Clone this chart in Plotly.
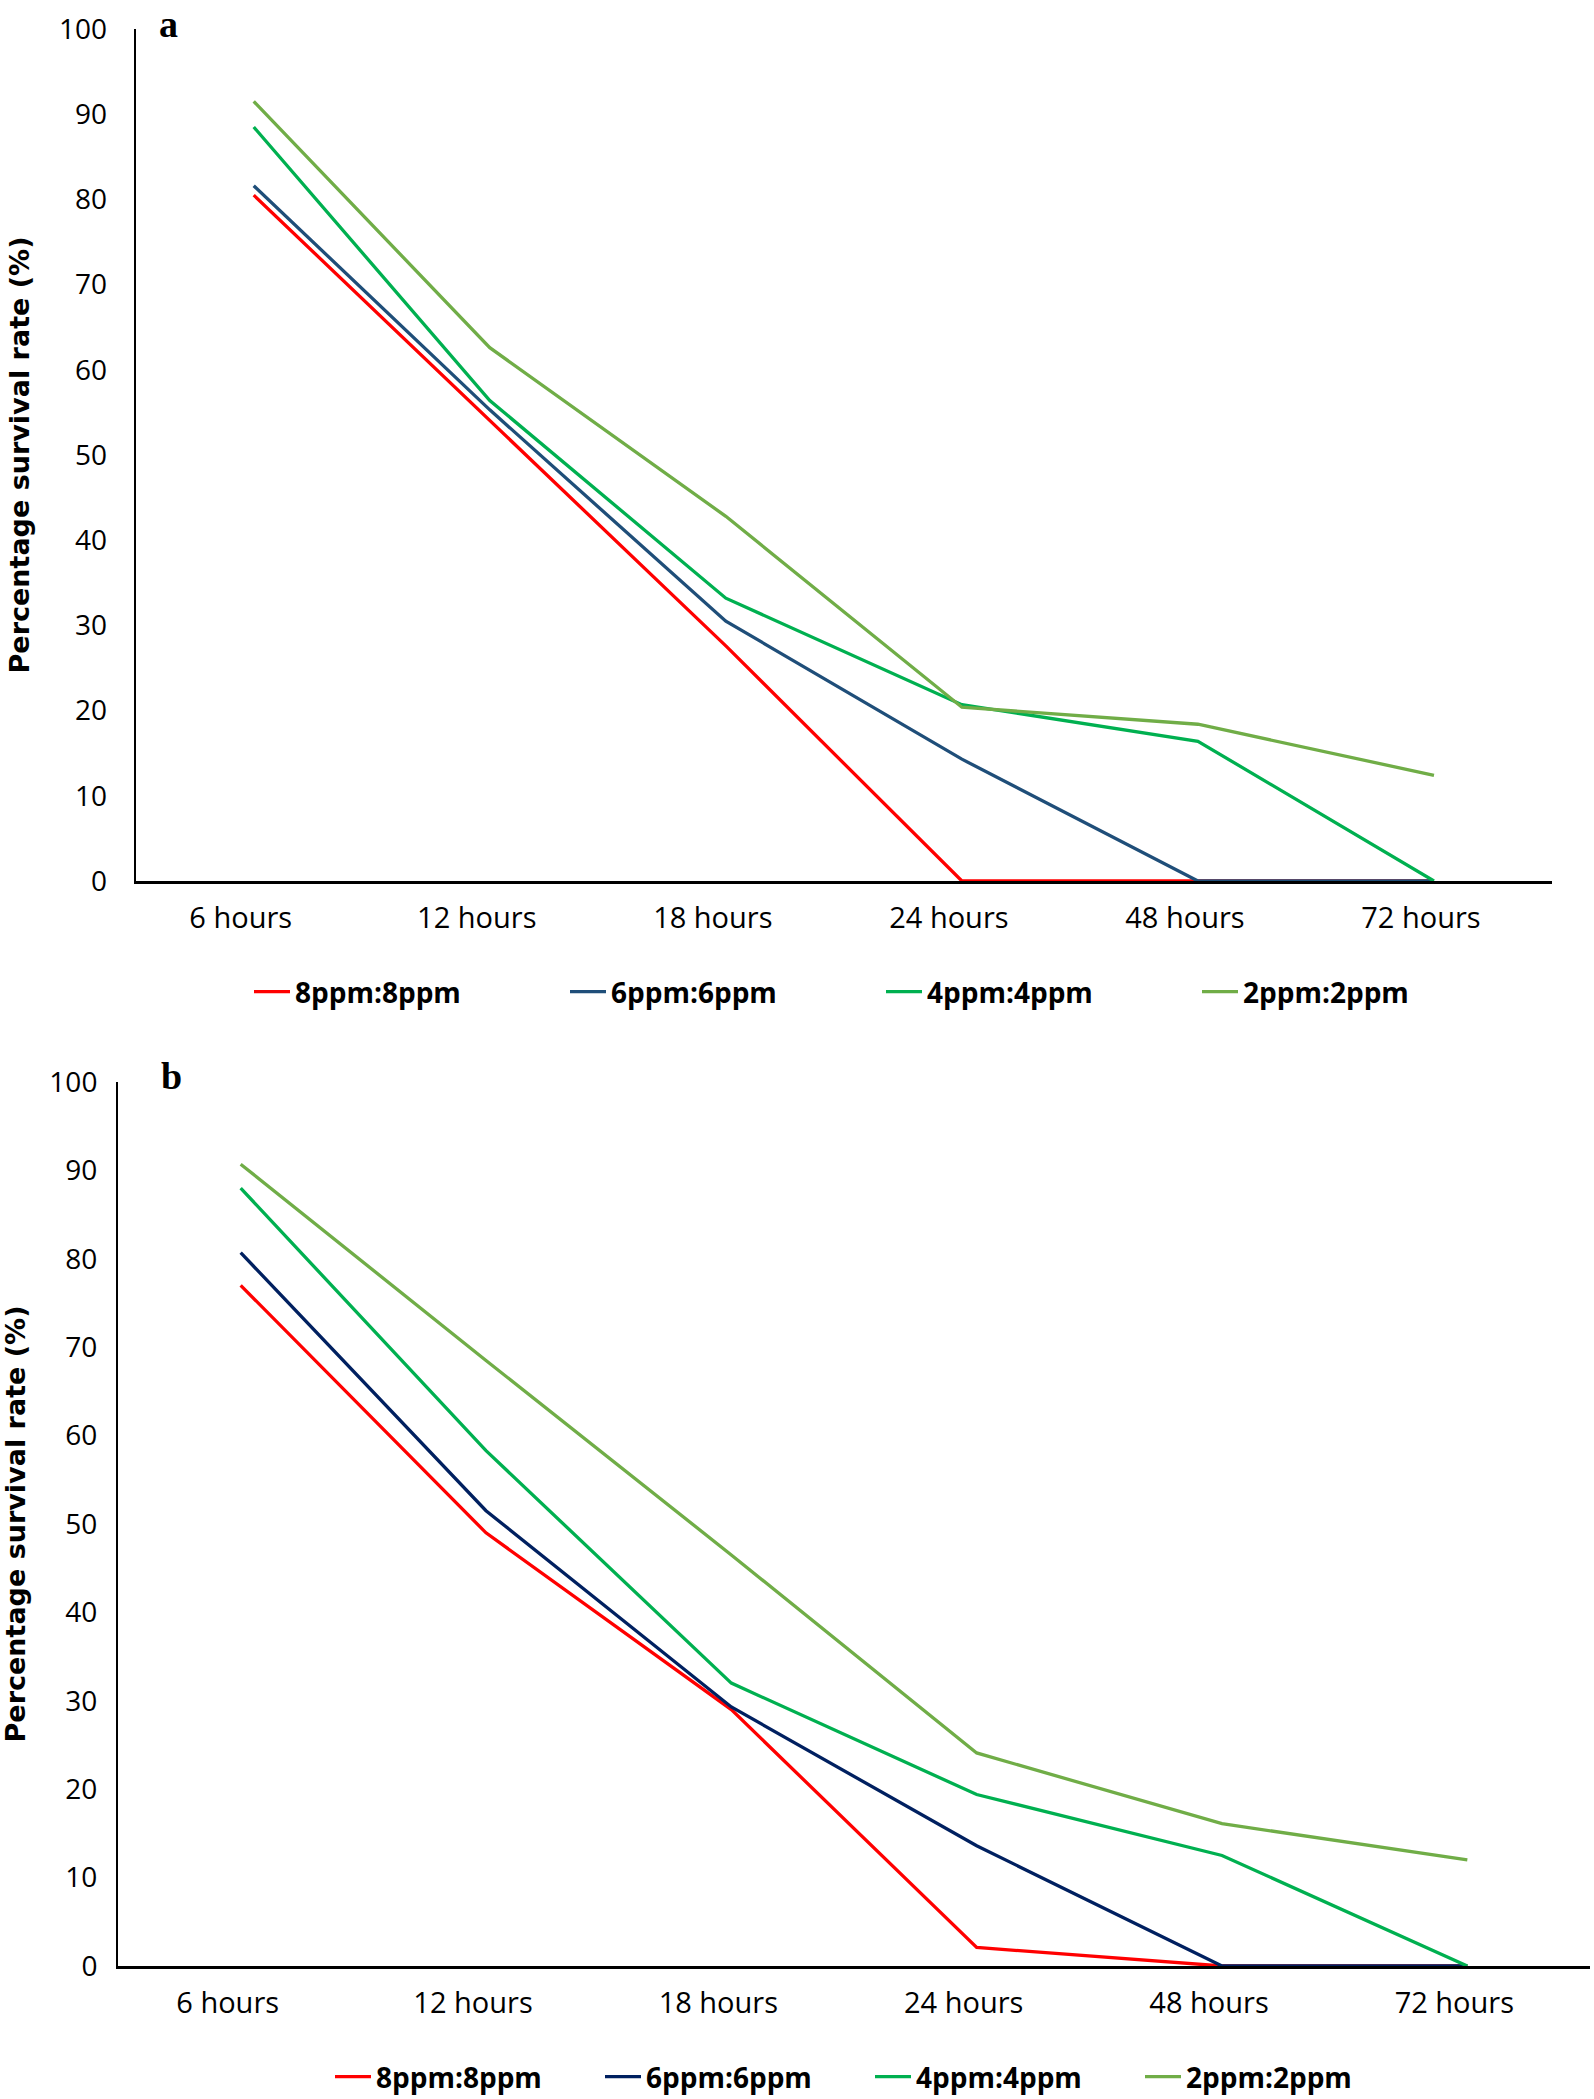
import plotly.graph_objects as go

# ---------------- data ----------------
categories = ["6 hours", "12 hours", "18 hours", "24 hours", "48 hours", "72 hours"]
series_names = ["8ppm:8ppm", "6ppm:6ppm", "4ppm:4ppm", "2ppm:2ppm"]

a_8ppm = [80.5, 54.0, 27.6, 0, 0, 0]
a_6ppm = [81.6, 55.3, 30.5, 14.3, 0, 0]
a_4ppm = [88.5, 56.4, 33.2, 20.7, 16.4, 0]
a_2ppm = [91.5, 62.6, 42.8, 20.4, 18.4, 12.4]

b_8ppm = [77.0, 49.0, 29.0, 2.1, 0, 0]
b_6ppm = [80.7, 51.5, 29.3, 13.6, 0, 0]
b_4ppm = [88.0, 58.3, 32.0, 19.4, 12.5, 0]
b_2ppm = [90.7, 68.5, 46.5, 24.1, 16.1, 12.0]

y_ticks = [0, 10, 20, 30, 40, 50, 60, 70, 80, 90, 100]

colors_a = ["#FF0000", "#1F4E79", "#00B050", "#70AD47"]
colors_b = ["#FF0000", "#002060", "#00B050", "#70AD47"]

W, H = 1594, 2099

fig = go.Figure()

for name, vals, col in zip(series_names, [a_8ppm, a_6ppm, a_4ppm, a_2ppm], colors_a):
    fig.add_trace(go.Scatter(x=categories, y=vals, mode="lines", name=name,
                             line=dict(color=col, width=3.3), xaxis="x", yaxis="y",
                             legend="legend"))
for name, vals, col in zip(series_names, [b_8ppm, b_6ppm, b_4ppm, b_2ppm], colors_b):
    fig.add_trace(go.Scatter(x=categories, y=vals, mode="lines", name=name,
                             line=dict(color=col, width=3.3), xaxis="x2", yaxis="y2",
                             legend="legend2"))

tick_font = dict(family="Open Sans", size=28, color="black")
xtick_font = dict(family="Open Sans", size=29, color="black")
title_font = dict(family="DejaVu Sans", size=27, color="black", weight="bold")
leg_font = dict(family="Open Sans", size=28, color="black", weight="bold")

def xax(domain, anchor):
    return dict(domain=domain, anchor=anchor, type="category", categoryorder="array",
                categoryarray=categories, range=[-0.5, 5.5], showline=True,
                linecolor="black", linewidth=3, ticks="", showgrid=False, zeroline=False,
                tickfont=xtick_font, ticklabelshift=-13, ticklabelstandoff=9,
                layer="below traces", fixedrange=True, automargin=False)

def yax(domain, anchor, standoff):
    return dict(domain=domain, anchor=anchor, range=[0, 100], tickvals=y_ticks,
                showline=True, linecolor="black", linewidth=2, ticks="", showgrid=False,
                zeroline=False, tickfont=tick_font, ticklabelstandoff=standoff,
                title=dict(text="Percentage survival rate (%)", font=title_font, standoff=22),
                layer="below traces", fixedrange=True, automargin=False)

fig.update_layout(
    width=W, height=H,
    margin=dict(l=0, r=0, t=0, b=0, pad=0, autoexpand=False),
    paper_bgcolor="white", plot_bgcolor="white",
    xaxis=xax([135.7 / W, 1552 / W], "y"),
    yaxis=yax([1 - 881 / H, 1 - 29 / H], "x", 21),
    xaxis2=xax([118 / W, 1590 / W], "y2"),
    yaxis2=yax([1 - 1966 / H, 1 - 1082 / H], "x2", 13),
    showlegend=True,
    legend=dict(orientation="h", x=249 / W, xanchor="left", y=1 - 992 / H, yanchor="middle",
                font=leg_font, entrywidth=265, entrywidthmode="pixels", itemwidth=36,
                bgcolor="rgba(0,0,0,0)", itemclick=False, itemdoubleclick=False),
    legend2=dict(orientation="h", x=330 / W, xanchor="left", y=1 - 2077 / H, yanchor="middle",
                 font=leg_font, entrywidth=219, entrywidthmode="pixels", itemwidth=36,
                 bgcolor="rgba(0,0,0,0)", itemclick=False, itemdoubleclick=False),
    annotations=[
        dict(text="a", xref="paper", yref="paper", x=168 / W, y=1 - 24 / H,
             xanchor="center", yanchor="middle", showarrow=False,
             font=dict(family="Liberation Serif", size=38, color="black", weight="bold")),
        dict(text="b", xref="paper", yref="paper", x=171 / W, y=1 - 1076 / H,
             xanchor="center", yanchor="middle", showarrow=False,
             font=dict(family="Liberation Serif", size=38, color="black", weight="bold")),
    ],
)

fig.write_html("out.html", config={"displayModeBar": False},
               post_script="document.body.style.margin='0px';")
